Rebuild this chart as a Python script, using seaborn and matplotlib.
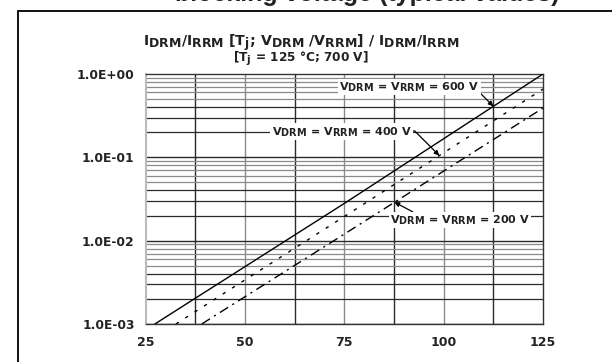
import matplotlib
matplotlib.use("Agg")
import matplotlib.pyplot as plt
import matplotlib._mathtext as mathtext_impl
from matplotlib.lines import Line2D
import numpy as np
import pandas as pd
import seaborn as sns

# Off-state / reverse leakage current vs. junction temperature (typical values)
tj_600 = [27.3, 75.0, 125.0]
i_600 = [1.0e-3, 2.8e-2, 1.0]
tj_400 = [32.6, 75.0, 125.0]
i_400 = [1.0e-3, 1.95e-2, 6.6e-1]
tj_200 = [39.1, 75.0, 125.0]
i_200 = [1.0e-3, 1.2e-2, 3.9e-1]
voltages = ["600 V", "400 V", "200 V"]

x_ticks = [25, 50, 75, 100, 125]
y_ticks = [1e-3, 1e-2, 1e-1, 1.0]
y_tick_labels = ["1.0E-03", "1.0E-02", "1.0E-01", "1.0E+00"]

df = pd.concat([
    pd.DataFrame({"Tj": tj_600, "I": i_600, "V": voltages[0]}),
    pd.DataFrame({"Tj": tj_400, "I": i_400, "V": voltages[1]}),
    pd.DataFrame({"Tj": tj_200, "I": i_200, "V": voltages[2]}),
], ignore_index=True)

sns.set_style("white")
plt.rcParams["font.family"] = ["DejaVu Sans"]
plt.rcParams["mathtext.default"] = "regular"
# datasheet-style subscripts: nearly full size
if hasattr(mathtext_impl, "SHRINK_FACTOR"):
    mathtext_impl.SHRINK_FACTOR = 0.88

ink = "#222222"
fig = plt.figure(figsize=(6.12, 3.62), dpi=100)
ax = fig.add_axes([145.7 / 612, 1 - 324 / 362, (543 - 145.7) / 612, (324 - 74) / 362])

ax.set_yscale("log")
ax.set_xlim(25, 125)
ax.set_ylim(1e-3, 1.0)

# grid: intermediate temperature lines darker than the labelled ones
dark, light = "#2a2a2a", "#8a8a8a"
for t in np.arange(37.5, 125, 25):
    ax.axvline(t, color=dark, lw=1.0, zorder=1)
for t in [50, 75, 100]:
    ax.axvline(t, color=light, lw=1.0, zorder=1)
for e in [-3, -2, -1]:
    for m in range(2, 10):
        ax.axhline(m * 10.0 ** e, color=dark if m <= 4 else light, lw=0.9, zorder=1)
    ax.axhline(10.0 ** e, color=dark, lw=1.0, zorder=1)

sns.lineplot(
    data=df, x="Tj", y="I", hue="V", style="V",
    palette={v: "black" for v in voltages},
    dashes={"600 V": "", "400 V": (2.4, 5.6), "200 V": (7.0, 3.5, 1.5, 3.5)},
    linewidth=1.0, legend=False, ax=ax, zorder=3,
)

ax.set_xticks(x_ticks)
ax.set_xticklabels([str(v) for v in x_ticks], fontsize=9, fontweight="bold", color=ink)
ax.set_yticks(y_ticks)
ax.set_yticklabels(y_tick_labels, fontsize=8.8, fontweight="bold", color=ink)
ax.minorticks_off()
ax.tick_params(axis="both", length=0)
ax.tick_params(axis="y", pad=8)
ax.tick_params(axis="x", pad=9)
ax.set_xlabel("")
ax.set_ylabel("")

for side in ["top", "right", "bottom"]:
    ax.spines[side].set_color("#333333")
    ax.spines[side].set_linewidth(1.0)
ax.spines["left"].set_color("#bbbbbb")
ax.spines["left"].set_linewidth(1.5)

box = dict(boxstyle="square,pad=0.12", fc="white", ec="none")
arrow = dict(arrowstyle="-|>", color="black", lw=0.9, mutation_scale=7, shrinkA=0, shrinkB=0)
label_kw = dict(ha="center", va="center", fontsize=8, fontweight="bold",
                color=ink, bbox=box, zorder=5)

ax.annotate(r"$V_{DRM}$ = $V_{RRM}$ = 600 V", xy=(112.5, 0.41), xytext=(91.4, 0.70),
            arrowprops=dict(arrow, relpos=(1.0, 0.1)), **label_kw)
ax.annotate(r"$V_{DRM}$ = $V_{RRM}$ = 400 V", xy=(98.9, 0.105), xytext=(74.3, 0.203),
            arrowprops=dict(arrow, relpos=(1.0, 0.55),
                            connectionstyle="angle,angleA=0,angleB=135,rad=0"),
            **label_kw)
ax.annotate(r"$V_{DRM}$ = $V_{RRM}$ = 200 V", xy=(87.6, 0.029), xytext=(104.1, 0.0177),
            arrowprops=dict(arrow, relpos=(0.18, 1.0)), **label_kw)

# chart heading inside the frame
head_kw = dict(ha="center", va="baseline", fontweight="bold", color=ink)
fig.text(0.492, 1 - 45.5 / 362,
         r"$I_{DRM}/I_{RRM}$ [$T_j$; $V_{DRM}$ /$V_{RRM}$] / $I_{DRM}/I_{RRM}$",
         fontsize=10.2, **head_kw)
fig.text(0.492, 1 - 60.5 / 362, r"[$T_j$ = 125 °C; 700 V]", fontsize=8.7, **head_kw)

# figure caption, partly above the page edge
fig.text(0.6005, 1 - 5.5 / 362, "blocking voltage (typical values)",
         ha="center", va="bottom", fontsize=18, fontweight="bold", color=ink,
         family="Liberation Sans")

# outer frame lines
fig.add_artist(Line2D([17.5 / 612, 1.0], [1 - 11 / 362, 1 - 11 / 362],
                      transform=fig.transFigure, color="#111111", lw=1.4))
fig.add_artist(Line2D([17.5 / 612, 17.5 / 612], [0.0, 1 - 11 / 362],
                      transform=fig.transFigure, color="#111111", lw=1.4))

fig.savefig("out.png", dpi=100)
